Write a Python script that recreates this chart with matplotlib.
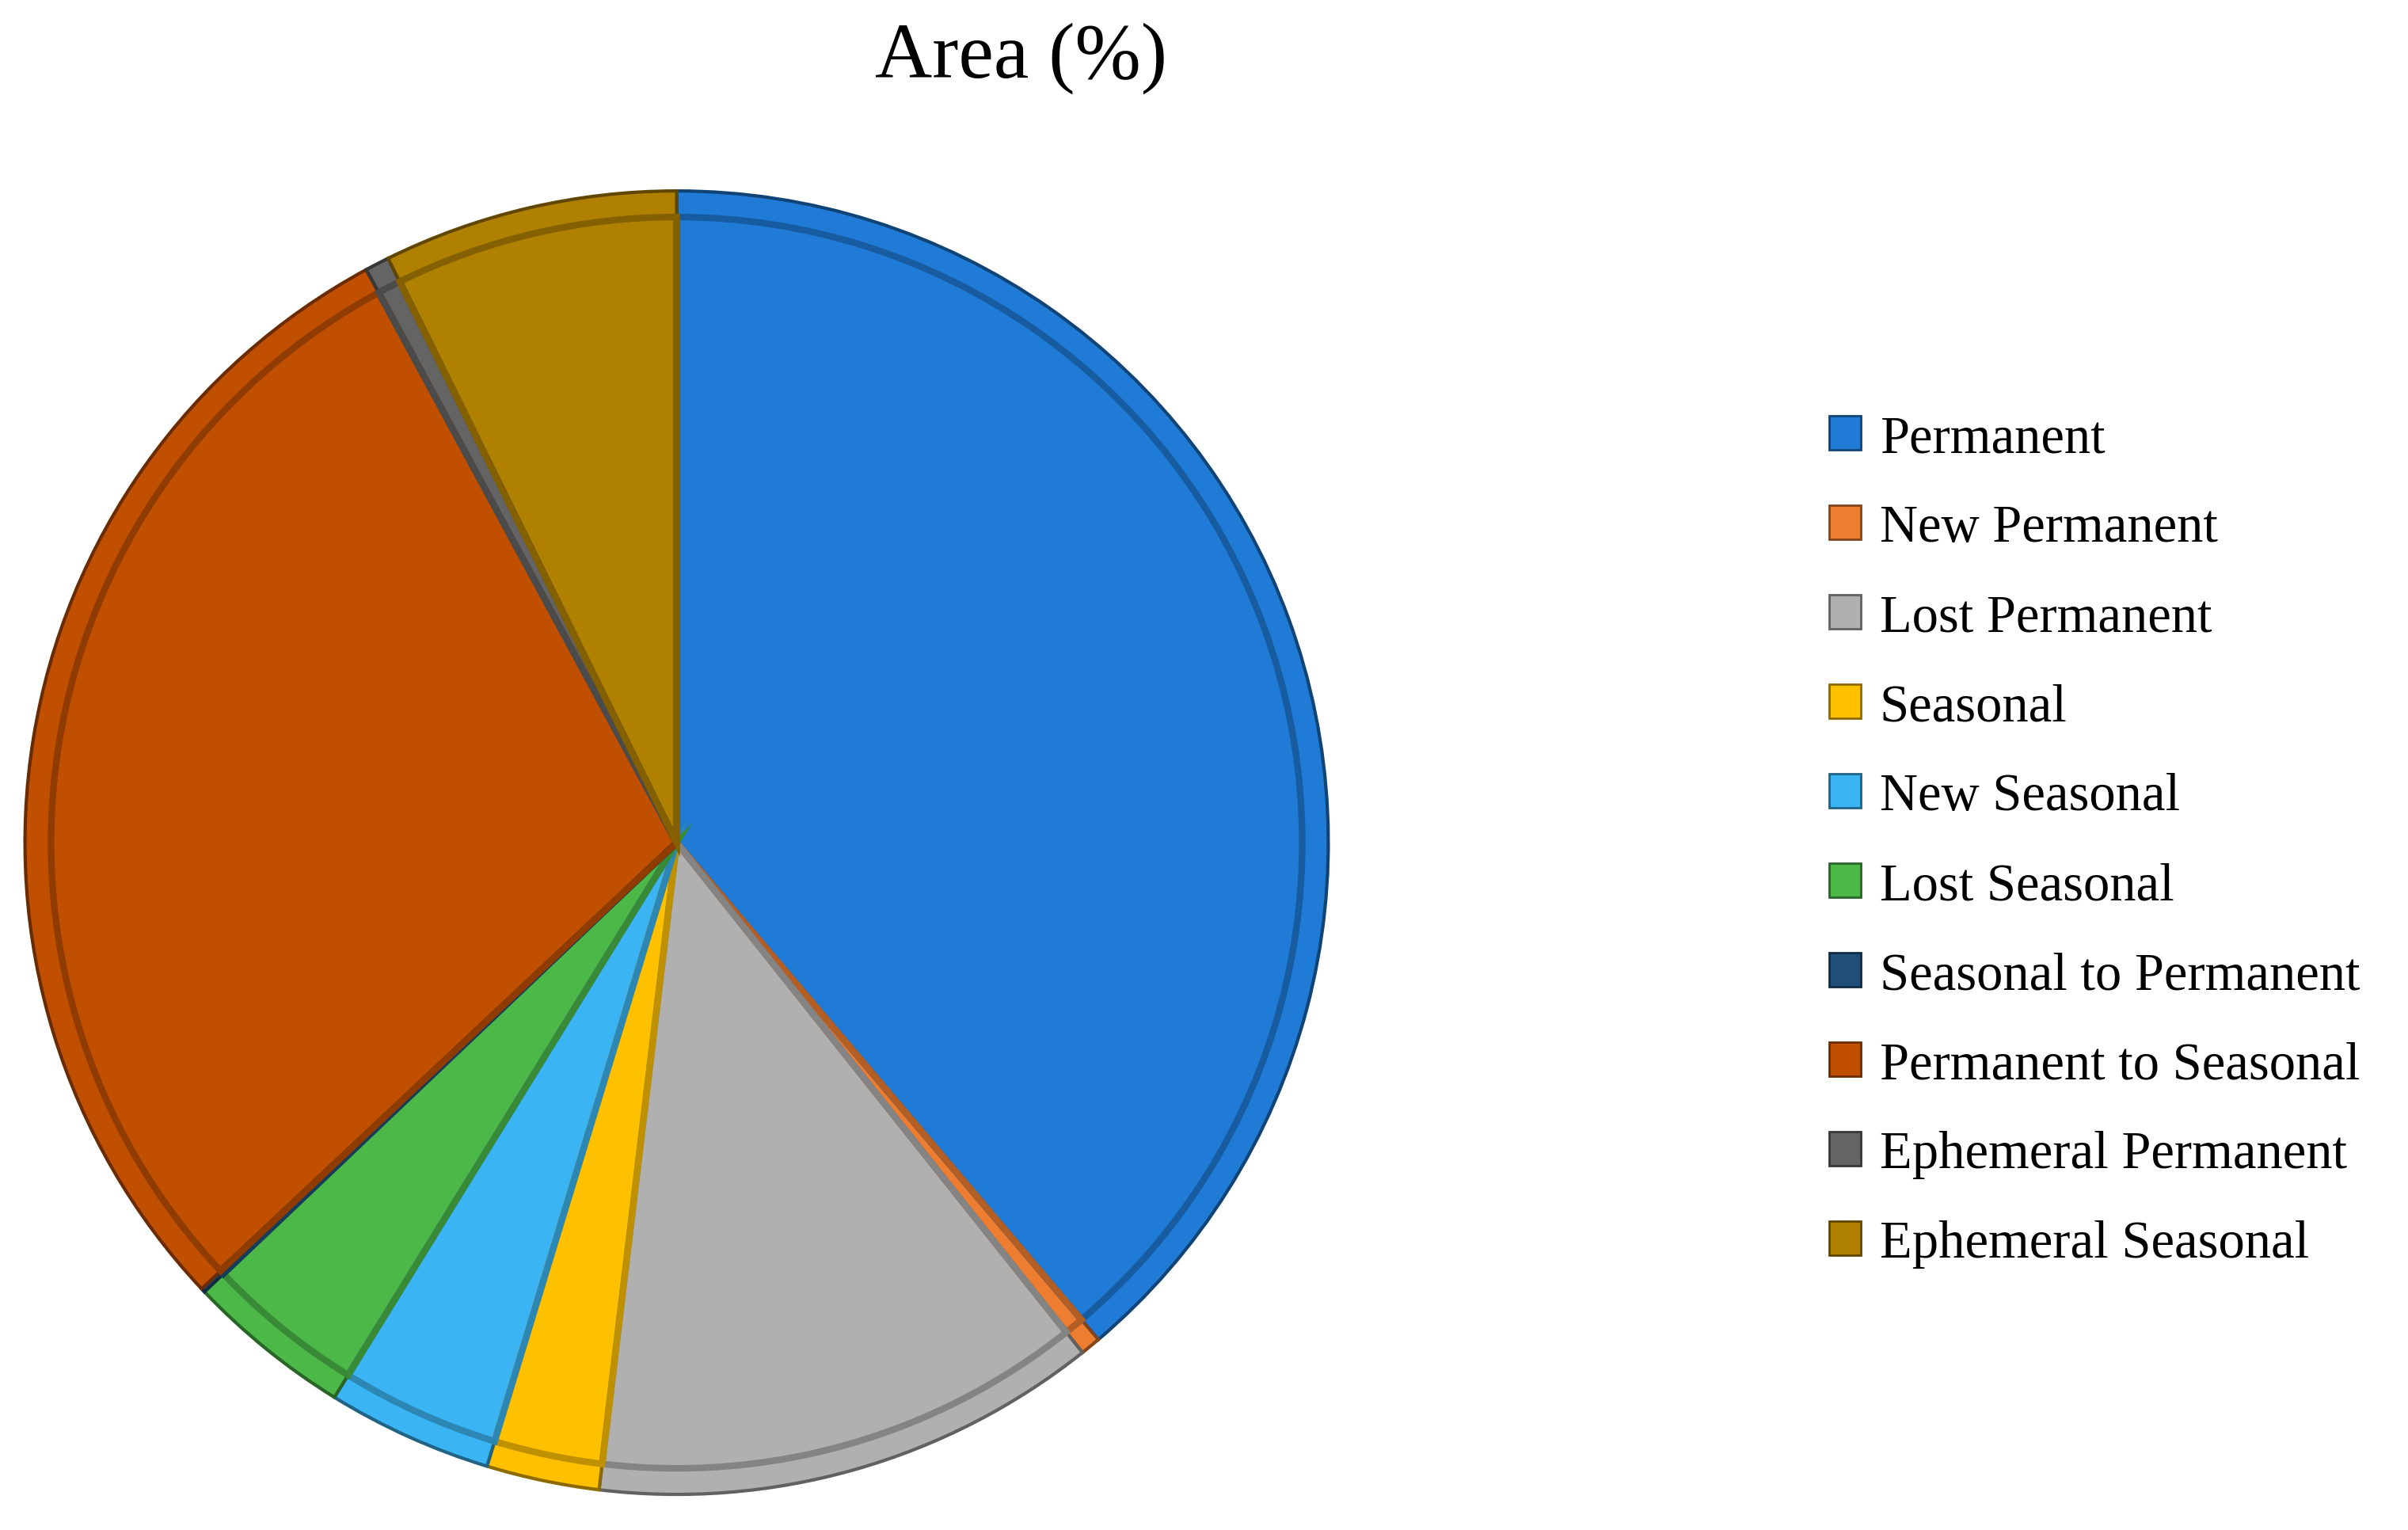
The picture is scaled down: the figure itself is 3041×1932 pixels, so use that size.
import matplotlib
matplotlib.use("Agg")
import matplotlib.pyplot as plt
from matplotlib.patches import Patch
import matplotlib.colors as mc

labels = ["Permanent", "New Permanent", "Lost Permanent", "Seasonal", "New Seasonal",
          "Lost Seasonal", "Seasonal to Permanent", "Permanent to Seasonal",
          "Ephemeral Permanent", "Ephemeral Seasonal"]
values = [38.8, 0.5, 12.6, 2.8, 4.1, 4.1, 0.1, 29.1, 0.6, 7.3]
colors = ["#1F7BD6", "#ED7D31", "#B0B0B0", "#FFC000", "#3AB4F2",
          "#4CB848", "#1F4E79", "#C04F00", "#646464", "#B08000"]

plt.rcParams['font.family'] = ['Liberation Serif', 'DejaVu Serif']
fig = plt.figure(figsize=(15.205, 9.665), dpi=200)
h = 0.86
w = h * 9.665 / 15.205
ax = fig.add_axes([0.281 - w/2, 0.449 - h/2, w, h])

def darker(c, f=0.6):
    r, g, b = mc.to_rgb(c)
    return (r*f, g*f, b*f)

wedges, _ = ax.pie(values, colors=colors, startangle=90, counterclock=False,
                   wedgeprops=dict(linewidth=0), frame=False)
for wd, c in zip(wedges, colors):
    wd.set_edgecolor(darker(c, 0.55))
    wd.set_linewidth(1.5)
w2, _ = ax.pie(values, colors=colors, startangle=90, counterclock=False, radius=0.96,
               wedgeprops=dict(linewidth=3, fill=False))
for wd, c in zip(w2, colors):
    wd.set_edgecolor(darker(c, 0.75))
ax.set_xlim(-1.01, 1.01)
ax.set_ylim(-1.01, 1.01)
ax.set_aspect('equal')
ax.axis('off')

fig.text(0.424, 0.962, "Area (%)", ha='center', va='center', fontsize=36)

handles = [Patch(facecolor=c, edgecolor=darker(c, 0.55), label=l) for l, c in zip(labels, colors)]
fig.legend(handles=handles, loc='center left', bbox_to_anchor=(0.74, 0.45), frameon=False,
           fontsize=24, handlelength=0.6, handleheight=0.6, handletextpad=0.35, labelspacing=0.78)

fig.savefig("out.png", dpi=200)
